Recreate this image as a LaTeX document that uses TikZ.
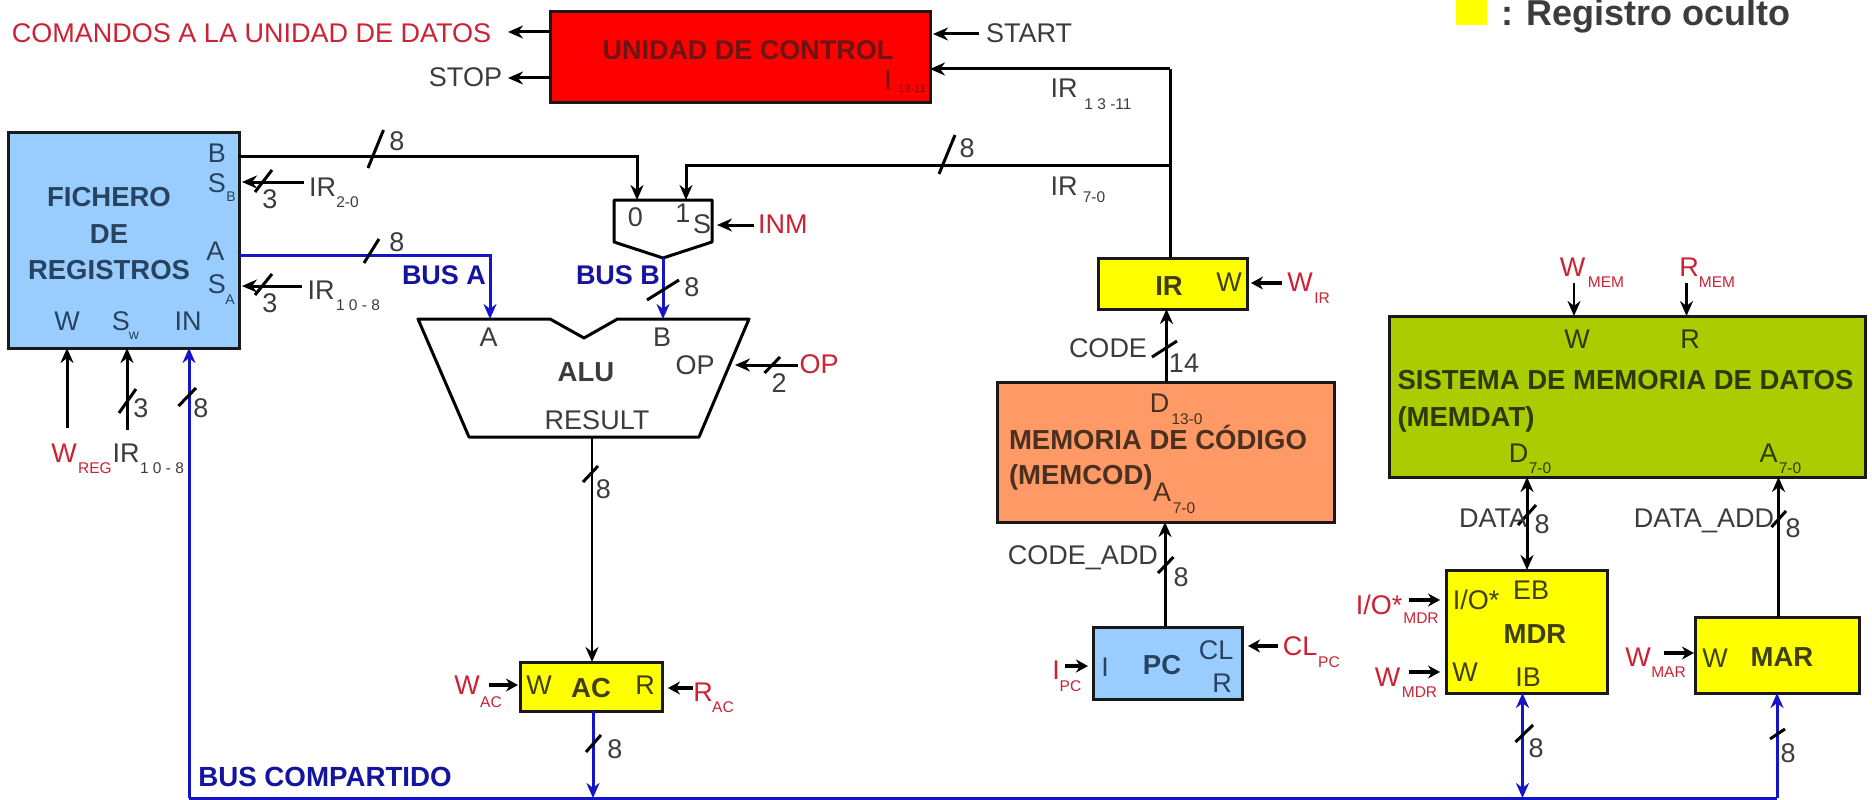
\documentclass[tikz,border=0pt]{standalone}
\usepackage{fontspec}
\setmainfont{Liberation Sans}
\usetikzlibrary{arrows.meta}
\definecolor{cgray}{HTML}{3C3C3C}
\definecolor{cred}{HTML}{CC2233}
\definecolor{cblue}{HTML}{14149E}
\definecolor{bus}{HTML}{1414C8}
\definecolor{onblue}{HTML}{28435F}
\definecolor{onyel}{HTML}{3F3F10}
\definecolor{onsal}{HTML}{4A3020}
\definecolor{ongrn}{HTML}{2E3A06}
\definecolor{onred}{HTML}{6B1515}
\definecolor{fblue}{HTML}{99CCFF}
\definecolor{fyel}{HTML}{FFFF00}
\definecolor{fsal}{HTML}{FF9966}
\definecolor{fgrn}{HTML}{AACC00}
\definecolor{fred}{HTML}{FF0000}
\tikzset{
  x=1pt,y=-1pt,
  box/.style={draw=black!90,line width=3pt,inner sep=0pt,outer sep=0pt,rectangle},
  lbl/.style={inner sep=0pt,outer sep=0pt,text depth=0pt,text=cgray,font=\fontsize{27}{27}\selectfont},
  sub/.style={inner sep=0pt,outer sep=0pt,text depth=0pt,text=cgray,font=\fontsize{15.5}{15.5}\selectfont},
  bld/.style={lbl,font=\fontsize{27.5}{27.5}\selectfont\bfseries},
  arr/.style={line width=3pt,black,-{Stealth[length=15pt,width=13pt]}},
  arrs/.style={line width=3.2pt,black,-{Stealth[length=12pt,width=13pt]}},
  darr/.style={line width=3pt,black,{Stealth[length=15pt,width=13pt]}-{Stealth[length=15pt,width=13pt]}},
  busarr/.style={line width=3pt,bus,-{Stealth[length=15pt,width=13pt]}},
  busdarr/.style={line width=3pt,bus,{Stealth[length=15pt,width=13pt]}-{Stealth[length=15pt,width=13pt]}},
  wire/.style={line width=3pt,black},
  slashm/.style={line width=3pt,black},
  shp/.style={line width=3pt,black,line join=round},
}
\newcommand{\slm}[2]{\draw[slashm] (#1) -- (#2);}
\begin{document}
\begin{tikzpicture}
\useasboundingbox (0,0) rectangle (1872,800);
\fill[white] (0,0) rectangle (1872,800);
% boxes
\node[box,fill=fblue,minimum width=230.5pt,minimum height=216pt] (fich) at (123.75,240) {};
\node[box,fill=fred,minimum width=380pt,minimum height=90pt] (uc) at (740,57) {};
\node[box,fill=fyel,minimum width=148.5pt,minimum height=51pt] (ir) at (1172.75,283.5) {};
\node[box,fill=fsal,minimum width=337pt,minimum height=140pt] (memcod) at (1165.5,452) {};
\node[box,fill=fblue,minimum width=149pt,minimum height=72pt] (pc) at (1167.5,663) {};
\node[box,fill=fgrn,minimum width=476pt,minimum height=161pt] (memdat) at (1627,396.5) {};
\node[box,fill=fyel,minimum width=161.5pt,minimum height=123pt] (mdr) at (1526.75,631.5) {};
\node[box,fill=fyel,minimum width=164pt,minimum height=76pt] (mar) at (1777,655) {};
\node[box,fill=fyel,minimum width=142pt,minimum height=49pt] (ac) at (591,686.5) {};
\node[fill=fyel,minimum width=31pt,minimum height=25pt,inner sep=0pt] (leg) at (1471.5,12.5) {};
% mux and ALU shapes
\coordinate (mux0) at (637,200);
\coordinate (mux1) at (686,200);
\coordinate (muxS) at (712,225);
\coordinate (muxO) at (663,258);
\draw[shp] (614,200) -- (712,200) -- (712,242) -- (muxO) -- (614,242) -- cycle;
\coordinate (aluA) at (490,319);
\coordinate (aluB) at (663,319);
\coordinate (aluOP) at (735,365);
\coordinate (aluR) at (592,437);
\draw[shp] (418,319) -- (550,319) -- (584,338) -- (617.5,319) -- (749,319) -- (699,437) -- (469,437) -- cycle;
% free ends
\coordinate (eCom) at (508,32);
\coordinate (eStop) at (508,78);
\coordinate (eStart) at (979,34);
\coordinate (jTop) at (1170,69);
\coordinate (j7) at (1170,165);
\coordinate (irTop) at (1170,258);
\coordinate (fB) at (239,156);
\coordinate (fA) at (239,255);
\coordinate (eSB) at (304,182);
\coordinate (eSA) at (302,286);
\coordinate (eInm) at (754,225);
\coordinate (eOP) at (798,365);
\coordinate (eW) at (67,428);
\coordinate (eSw) at (127,430);
\coordinate (bL) at (189,798);
\coordinate (bR) at (1777,798);
\coordinate (bAC) at (593,798);
\coordinate (bMDR) at (1522.5,798);
\coordinate (eWac) at (489,685);
\coordinate (eRac) at (693,688);
\coordinate (eWir) at (1282,283);
\coordinate (eIpc) at (1065,666);
\coordinate (eClpc) at (1278,646);
\coordinate (eIOm) at (1409,600);
\coordinate (eWm) at (1409,672);
\coordinate (eWmar) at (1664,653);
\coordinate (eWmem) at (1574,283);
\coordinate (eRmem) at (1686.5,283);
% black connectors
\draw[arr] (uc.west |- eCom) -- (eCom);
\draw[arr] (uc.west |- eStop) -- (eStop);
\draw[arr] (eStart) -- (933,34);
\draw[arr] (jTop) -- (uc.east |- jTop);
\draw[wire] (irTop) -- (jTop);
\draw[arr] (j7) -| (mux1);
\draw[arr] (fB) -| (mux0);
\draw[arr] (eSB) -- (242,182);
\draw[arr] (eSA) -- (242,286);
\draw[arr] (eInm) -- (717,225);
\draw[arr] (eOP) -- (aluOP);
\draw[arr] (eW) -- (fich.south -| eW);
\draw[arr] (eSw) -- (fich.south -| eSw);
\draw[arr,line width=2.4pt] (aluR) -- (ac.north -| aluR);
\draw[arrs] (eWac) -- (518,685);
\draw[arrs] (eRac) -- (668,688);
\draw[arrs] (eWir) -- (1251,283);
\draw[arr] (memcod.north -| 1166.5,0) -- (ir.south -| 1166.5,0);
\draw[arr] (pc.north -| 1165,0) -- (memcod.south -| 1165,0);
\draw[arrs] (eIpc) -- (1088,666);
\draw[arrs] (eClpc) -- (1248,646);
\draw[arrs] (eIOm) -- (1440,600);
\draw[arrs] (eWm) -- (1440,672);
\draw[arrs] (eWmar) -- (1694,653);
\draw[arr,line width=2.4pt] (eWmem) -- (memdat.north -| eWmem);
\draw[arr,line width=2.4pt] (eRmem) -- (memdat.north -| eRmem);
\draw[darr] (mdr.north -| 1527,0) -- (memdat.south -| 1527,0);
\draw[arr] (mar.north -| 1778.5,0) -- (memdat.south -| 1778.5,0);
% blue connectors
\draw[busarr] (fA) -| (aluA);
\draw[busarr] (muxO) -- (aluB);
\draw[line width=3pt,bus] (bL) -- (bR);
\draw[busarr] (bL) -- (fich.south -| bL);
\draw[busarr] (ac.south -| bAC) -- (bAC);
\draw[busdarr] (mdr.south -| bMDR) -- (bMDR);
\draw[busarr] (bR) -- (mar.south -| bR);
% slashes
\slm{383.5,130}{368,168}
\slm{379,239}{364,263}
\slm{272,170}{255,192}
\slm{272,274}{255,295}
\slm{955,135}{939,174}
\slm{136,389}{119,413}
\slm{196,388}{178.5,406}
\slm{679,280}{647,300}
\slm{780,357}{764.5,373}
\slm{598,466}{583,482}
\slm{601,735}{586,752}
\slm{1177,341}{1152,357}
\slm{1173.5,557}{1158,573}
\slm{1536,505}{1518,525}
\slm{1786,511}{1771.5,527}
\slm{1533,725}{1515.5,742}
\slm{1785,729}{1770,739}
% top labels
\node[lbl,text=cred,anchor=west] (tCom) at (12,33) {COMANDOS A LA UNIDAD DE DATOS};
\node[lbl,anchor=east] (tStop) at (502,77) {STOP};
\node[lbl,anchor=west] (tStart) at (986,33) {START};
\node[bld,text=onred,font=\fontsize{27}{27}\selectfont\bfseries] (tUC) at (748,50) {UNIDAD DE CONTROL};
\node[lbl,text=onred] (tI) at (888,80) {I};
\node[sub,text=onred,font=\fontsize{11}{11}\selectfont] (tI2) at (912,89) {13-11};
\node[lbl] (tIRa) at (1064,88) {IR};
\node[sub] (tIRa2) at (1108,104) {1 3 -11};
\node[lbl] (tIRb) at (1064,186) {IR};
\node[sub] (tIRb2) at (1094,197) {7-0};
\node[lbl] (t8a) at (397,141) {8};
\node[lbl] (t8b) at (397,242) {8};
\node[lbl] (t8c) at (967,148) {8};
% fichero
\node[bld,text=onblue] (tF1) at (109,197) {FICHERO};
\node[bld,text=onblue] (tF2) at (109,234) {DE};
\node[bld,text=onblue] (tF3) at (109,270) {REGISTROS};
\node[lbl,text=onblue] (tB) at (217,153) {B};
\node[lbl,text=onblue] (tSB) at (217,183) {S};
\node[sub,text=onblue,font=\fontsize{14}{14}\selectfont] (tSB2) at (231,197) {B};
\node[lbl,text=onblue] (tA) at (215.5,251) {A};
\node[lbl,text=onblue] (tSA) at (217,284) {S};
\node[sub,text=onblue,font=\fontsize{14}{14}\selectfont] (tSA2) at (230,300) {A};
\node[lbl,text=onblue] (tW) at (67,321) {W};
\node[lbl,text=onblue] (tSw) at (121,321) {S};
\node[sub,text=onblue,font=\fontsize{14}{14}\selectfont] (tSw2) at (134,336) {w};
\node[lbl,text=onblue] (tIN) at (188,321) {IN};
\node[lbl] (t3a) at (270,199) {3};
\node[lbl] (t3b) at (270,303) {3};
\node[lbl] (tIRc) at (322.5,187) {IR};
\node[sub] (tIRc2) at (347.5,202) {2-0};
\node[lbl] (tIRd) at (321,290) {IR};
\node[sub] (tIRd2) at (358,305) {1 0 - 8};
\node[lbl] (t3c) at (141,408) {3};
\node[lbl] (t8d) at (201,408) {8};
\node[lbl,text=cred] (tWr) at (64,453) {W};
\node[sub,text=cred] (tWr2) at (95,468) {REG};
\node[lbl] (tIRe) at (126,453) {IR};
\node[sub] (tIRe2) at (162,468) {1 0 - 8};
% buses
\node[bld,text=cblue,font=\fontsize{27}{27}\selectfont\bfseries] (tBA) at (444,275) {BUS A};
\node[bld,text=cblue,font=\fontsize{27}{27}\selectfont\bfseries] (tBB) at (618,275) {BUS B};
\node[bld,text=cblue,font=\fontsize{27.7}{27.7}\selectfont\bfseries] (tBC) at (325,777) {BUS COMPARTIDO};
% mux
\node[lbl] (tM0) at (635.5,217) {0};
\node[lbl] (tM1) at (683,213) {1};
\node[lbl] (tMS) at (702,224) {S};
\node[lbl,text=cred,anchor=west] (tINM) at (758,224) {INM};
\node[lbl] (t8e) at (692,287) {8};
% ALU
\node[lbl] (tAa) at (488.5,337) {A};
\node[lbl] (tAb) at (662,337) {B};
\node[lbl] (tAop) at (695,365) {OP};
\node[bld] (tALU) at (586,372) {ALU};
\node[lbl] (tRes) at (597,420) {RESULT};
\node[lbl] (t2) at (779,383) {2};
\node[lbl,text=cred] (tOP) at (819,364) {OP};
\node[lbl] (t8f) at (603.5,489) {8};
% AC
\node[lbl,text=onyel] (tACw) at (539,685) {W};
\node[bld,text=onyel] (tAC) at (591,688) {AC};
\node[lbl,text=onyel] (tACr) at (645,685) {R};
\node[lbl,text=cred] (tWac) at (467,685) {W};
\node[sub,text=cred] (tWac2) at (491,702) {AC};
\node[lbl,text=cred] (tRac) at (703,692) {R};
\node[sub,text=cred] (tRac2) at (723,707) {AC};
\node[lbl] (t8g) at (615,749) {8};
% IR
\node[bld,text=onyel] (tIR) at (1169,286) {IR};
\node[lbl,text=onyel] (tIRw) at (1229,282) {W};
\node[lbl,text=cred] (tWir) at (1300,282) {W};
\node[sub,text=cred] (tWir2) at (1322,298) {IR};
\node[lbl,anchor=east] (tCode) at (1147,348) {CODE};
\node[lbl] (t14) at (1184,363) {14};
% memcod
\node[lbl,text=onsal] (tD) at (1159.5,403) {D};
\node[sub,text=onsal] (tD2) at (1187,419) {13-0};
\node[bld,text=onsal,anchor=west] (tMC1) at (1009,437) {MEMORIA DE CÓDIGO};
\node[bld,text=onsal,anchor=west] (tMC2) at (1009,475) {(MEMCOD)};
\node[lbl,text=onsal] (tAm) at (1162,492) {A};
\node[sub,text=onsal] (tAm2) at (1184,508) {7-0};
\node[lbl,anchor=east] (tCA) at (1158,555) {CODE\_ADD};
\node[lbl] (t8h) at (1181,577) {8};
% PC
\node[lbl,text=onblue] (tPCi) at (1105,667) {I};
\node[bld,text=onblue] (tPC) at (1162,665) {PC};
\node[lbl,text=onblue] (tPCc) at (1216,650) {CL};
\node[lbl,text=onblue] (tPCr) at (1222,683) {R};
\node[lbl,text=cred] (tIpc) at (1056,670) {I};
\node[sub,text=cred] (tIpc2) at (1070.5,686) {PC};
\node[lbl,text=cred] (tCl) at (1300,646) {CL};
\node[sub,text=cred] (tCl2) at (1329,662) {PC};
% memdat
\node[lbl,text=ongrn] (tMw) at (1577,339) {W};
\node[lbl,text=ongrn] (tMr) at (1690,339) {R};
\node[bld,text=ongrn,anchor=west] (tMD1) at (1397.5,380) {SISTEMA DE MEMORIA DE DATOS};
\node[bld,text=ongrn,anchor=west] (tMD2) at (1397.5,417) {(MEMDAT)};
\node[lbl,text=ongrn] (tMd) at (1518.5,453) {D};
\node[sub,text=ongrn] (tMd2) at (1540,468) {7-0};
\node[lbl,text=ongrn] (tMa) at (1768.5,453) {A};
\node[sub,text=ongrn] (tMa2) at (1790,468) {7-0};
\node[lbl,text=cred] (tWm) at (1572.5,267) {W};
\node[sub,text=cred] (tWm2) at (1606,282) {MEM};
\node[lbl,text=cred] (tRm) at (1689,267) {R};
\node[sub,text=cred] (tRm2) at (1717,282) {MEM};
\node[lbl,anchor=east] (tData) at (1527,518) {DATA};
\node[lbl] (t8i) at (1542,524) {8};
\node[lbl,anchor=east] (tDA) at (1774,518) {DATA\_ADD};
\node[lbl] (t8j) at (1793,528) {8};
% MDR
\node[lbl,text=onyel] (tMio) at (1476,600) {I/O*};
\node[lbl,text=onyel] (tMeb) at (1531,590) {EB};
\node[bld,text=onyel] (tMDR) at (1535,634) {MDR};
\node[lbl,text=onyel] (tMdw) at (1465,672) {W};
\node[lbl,text=onyel] (tMib) at (1528,677) {IB};
\node[lbl,text=cred] (tIO) at (1379,605) {I/O*};
\node[sub,text=cred] (tIO2) at (1421,618) {MDR};
\node[lbl,text=cred] (tWd) at (1387.5,677) {W};
\node[sub,text=cred] (tWd2) at (1419.5,692) {MDR};
\node[lbl] (t8k) at (1536,748) {8};
% MAR
\node[lbl,text=onyel] (tMarw) at (1715,658) {W};
\node[bld,text=onyel] (tMAR) at (1782,657) {MAR};
\node[lbl,text=cred] (tWma) at (1638,657) {W};
\node[sub,text=cred] (tWma2) at (1668.5,672) {MAR};
\node[lbl] (t8l) at (1788,753) {8};
% legend
\node[inner sep=0pt,text=cgray,anchor=base west,font=\fontsize{36}{36}\selectfont\bfseries] (tLeg) at (1501,26) {: Registro oculto};
\end{tikzpicture}
\end{document}
